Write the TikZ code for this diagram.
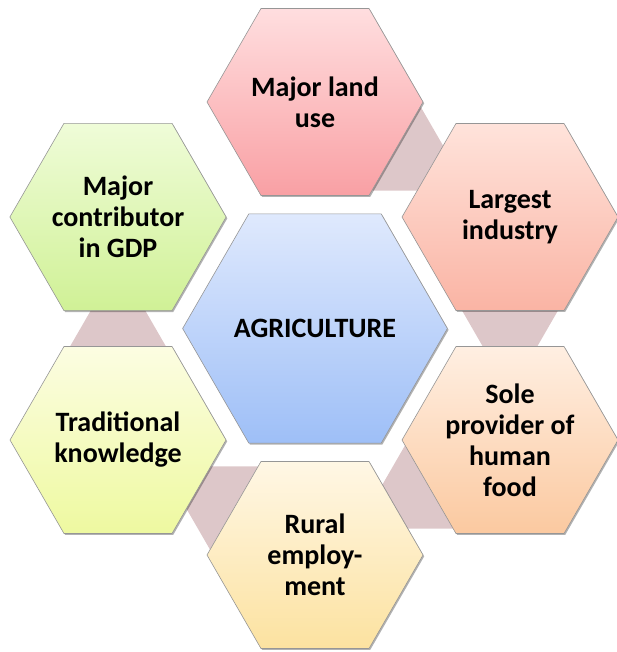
\documentclass[tikz,border=0pt]{standalone}
\usepackage{fontspec}
\setmainfont{Carlito}
\usetikzlibrary{shapes.geometric,shadows}

% fills of the six outer cells (top / bottom of each gradient)
\definecolor{landT}{RGB}{255,222,223}\definecolor{landB}{RGB}{249,160,164}
\definecolor{indT}{RGB}{255,227,219}\definecolor{indB}{RGB}{250,180,164}
\definecolor{foodT}{RGB}{255,239,226}\definecolor{foodB}{RGB}{251,201,160}
\definecolor{ruralT}{RGB}{255,247,229}\definecolor{ruralB}{RGB}{252,226,160}
\definecolor{tradT}{RGB}{252,253,226}\definecolor{tradB}{RGB}{238,249,160}
\definecolor{gdpT}{RGB}{239,252,216}\definecolor{gdpB}{RGB}{208,241,150}
\definecolor{coreT}{RGB}{223,233,253}\definecolor{coreB}{RGB}{158,191,247}
\definecolor{linkfill}{RGB}{221,199,201}
\definecolor{hexline}{RGB}{150,150,150}

\tikzset{
  hexbase/.style={regular polygon, regular polygon sides=6,
    inner sep=0pt, outer sep=0pt},
  cell/.style 2 args={hexbase, minimum size=216pt,
    top color=#1, bottom color=#2, draw=hexline, line width=0.6pt,
    drop shadow={shadow xshift=1.2pt, shadow yshift=-1.4pt,
      opacity=0.3, fill=black},
    align=center, font=\fontsize{28}{31}\selectfont\bfseries},
  corecell/.style={cell={coreT}{coreB}, minimum size=262pt},
  linkhex/.style={hexbase, minimum size=96pt, fill=linkfill},
}

\begin{document}
\begin{tikzpicture}[x=1pt, y=-1pt]
  \useasboundingbox (0,0) rectangle (616,652);

  % links between consecutive outer cells, drawn underneath
  \node[linkhex] (l12) at (397,149) {};
  \node[linkhex] (l23) at (510,310.5) {};
  \node[linkhex] (l34) at (429,487) {};
  \node[linkhex] (l45) at (234,508) {};
  \node[linkhex] (l56) at (118,346.5) {};

  % outer ring
  \node[cell={landT}{landB}]   (land)  at (315,102) {Major land\\use};
  \node[cell={indT}{indB}]     (ind)   at (510,217) {Largest\\industry};
  \node[cell={foodT}{foodB}]   (food)  at (510,440) {Sole\\provider of\\human\\food};
  \node[cell={ruralT}{ruralB}] (rural) at (315,555) {Rural\\employ-\\ment};
  \node[cell={tradT}{tradB}]   (trad)  at (118,440) {Traditional\\knowledge};
  \node[cell={gdpT}{gdpB}]     (gdp)   at (118,217) {Major\\contributor\\in GDP};

  % centre
  \node[corecell] (core) at (315,328.5) {AGRICULTURE};
\end{tikzpicture}
\end{document}
